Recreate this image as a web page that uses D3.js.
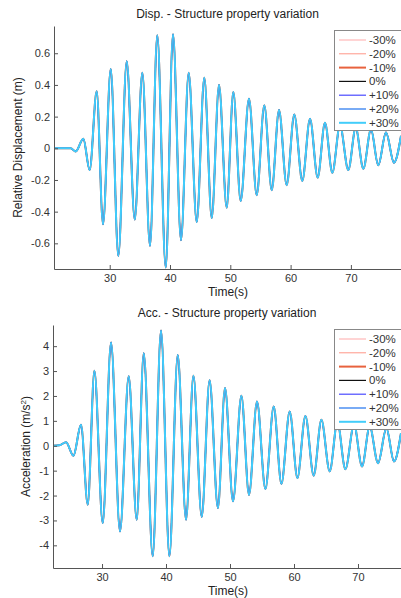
<!DOCTYPE html>
<html>
<head>
<meta charset="utf-8">
<script src="https://cdn.jsdelivr.net/npm/d3@7"></script>
<style>
body{margin:0;background:#fff;}
svg{display:block;font-family:"Liberation Sans",Arial,sans-serif;}
.tick text{fill:#333;font-size:11px;}
.domain,.tick line{stroke:#555;}
.title,.label{fill:#222;font-size:12px;}
.legend text{fill:#333;font-size:11.5px;}
</style>
</head>
<body>
<div id="chart"></div>
<script>
// structure property variation cases
const seriesNames = ['-30%','-20%','-10%','0%','+10%','+20%','+30%'];

const dispTime = [20.76, 23.53, 24.36, 25.62, 26.68, 27.84, 28.89, 30.17, 31.43, 32.82, 34.15, 35.41,
  36.68, 37.89, 39.29, 40.5, 41.82, 43.1, 44.43, 45.69, 46.92, 48.13, 49.4, 50.5, 51.72, 53.1,
  54.38, 55.64, 56.87, 58.08, 59.35, 60.61, 61.94, 63.22, 64.49, 65.7, 66.92, 68.19, 69.57,
  70.8, 72.06, 73.33, 74.54, 75.82, 77.15, 78.31];
const dispValue = [0, 0, -0.02, 0.06, -0.137, 0.36, -0.48, 0.50, -0.68, 0.55, -0.45, 0.477,
  -0.616, 0.713, -0.753, 0.72, -0.58, 0.477, -0.465, 0.445, -0.44, 0.40, -0.375, 0.355, -0.333, 0.313,
  -0.297, 0.271, -0.265, 0.242, -0.233, 0.214, -0.206, 0.187, -0.185, 0.162, -0.154, 0.145, -0.137,
  0.13, -0.129, 0.12, -0.107, 0.10, -0.091, 0.078];

const accTime = [22.3, 23.34, 24.38, 25.53, 26.72, 27.77, 28.81, 30.11, 31.41, 32.81, 34.17, 35.42,
  36.52, 37.92, 39.22, 40.53, 41.83, 43.13, 44.28, 45.58, 46.81, 48.11, 49.22, 50.47, 51.78, 52.97,
  54.22, 55.53, 56.83, 58.03, 59.33, 60.53, 61.78, 63.08, 64.28, 65.58, 66.78, 68.03, 69.38,
  70.63, 71.83, 73.13, 74.44, 75.63, 76.72];
const accValue = [0, 0.02, 0.14, -0.4, 0.84, -2.37, 3.01, -3.1, 4.15, -3.44, 2.79, -2.97,
  3.72, -4.44, 4.63, -4.44, 3.65, -2.97, 2.81, -2.86, 2.63, -2.5, 2.32, -2.23, 2.01, -1.97,
  1.78, -1.74, 1.58, -1.53, 1.38, -1.3, 1.2, -1.2, 1.04, -1.03, 0.95, -0.94, 0.85,
  -0.83, 0.78, -0.7, 0.7, -0.63, 0.51];

const timeTicks = [30, 40, 50, 60, 70];
const dispTicks = [-0.6, -0.4, -0.2, 0, 0.2, 0.4, 0.6];
const accTicks = [-4, -3, -2, -1, 0, 1, 2, 3, 4];

// line look per case
const seriesStyle = {
  '-30%': {color: '#ffd4d4', width: 2},
  '-20%': {color: '#ff9688', width: 1},
  '-10%': {color: '#e8623e', width: 2},
  '0%':   {color: '#111111', width: 1.2},
  '+10%': {color: '#4a4aff', width: 1.2},
  '+20%': {color: '#4c8ff2', width: 1.5},
  '+30%': {color: '#42cdfa', width: 2}
};

const W = 401, H = 598;
const svg = d3.select('#chart').append('svg')
  .attr('width', W).attr('height', H);

let clipId = 0;
function drawPanel(o){
  const g = svg.append('g');
  const x = d3.scaleLinear(o.xDomain, [o.left, o.right]);
  const y = d3.scaleLinear(o.yDomain, [o.bottom, o.top]);
  const id = 'clip' + (clipId++);
  g.append('clipPath').attr('id', id).append('rect')
    .attr('x', o.left).attr('y', o.top)
    .attr('width', o.right - o.left).attr('height', o.bottom - o.top);

  const pts = o.time.map((t, i) => [t, o.value[i]]);
  const line = d3.line().x(d => x(d[0])).y(d => y(d[1])).curve(d3.curveMonotoneX);
  const lines = g.append('g').attr('clip-path', `url(#${id})`);
  seriesNames.forEach(name => {
    lines.append('path').datum(pts)
      .attr('d', line)
      .attr('fill', 'none')
      .attr('stroke', seriesStyle[name].color)
      .attr('stroke-width', seriesStyle[name].width)
      .attr('stroke-linejoin', 'round');
  });

  g.append('g').attr('transform', `translate(0,${o.bottom})`)
    .call(d3.axisBottom(x).tickValues(timeTicks).tickSizeInner(-4).tickSizeOuter(0).tickPadding(5));
  g.append('g').attr('transform', `translate(${o.left},0)`)
    .call(d3.axisLeft(y).tickValues(o.yTicks).tickSizeInner(-4).tickSizeOuter(0).tickPadding(4)
      .tickFormat(d => String(+d.toFixed(1))));

  g.append('text').classed('title', true)
    .attr('x', (o.left + o.right) / 2).attr('y', o.top - 8)
    .attr('text-anchor', 'middle').text(o.title);
  g.append('text').classed('label', true)
    .attr('x', 228).attr('y', o.bottom + 27)
    .attr('text-anchor', 'middle').text('Time(s)');
  const yl = g.append('text').classed('label', true)
    .attr('transform', `translate(${o.yLabelX},${(o.top + o.bottom) / 2})rotate(-90)`)
    .attr('text-anchor', 'middle');
  o.yLabel(yl);

  // legend
  const lg = g.append('g').classed('legend', true);
  lg.append('rect')
    .attr('x', 334.5).attr('y', o.top + 4.5).attr('width', 70).attr('height', 100)
    .attr('fill', '#fff').attr('stroke', '#888');
  seriesNames.forEach((name, i) => {
    const cy = o.top + 14 + i * 13.8;
    lg.append('line').attr('x1', 339).attr('x2', 366).attr('y1', cy).attr('y2', cy)
      .attr('stroke', seriesStyle[name].color).attr('stroke-width', seriesStyle[name].width);
    lg.append('text').attr('x', 369).attr('y', cy + 4).text(name);
  });
}

drawPanel({
  left: 54, right: 401, top: 26, bottom: 269,
  xDomain: [20.76, 78.31], yDomain: [-0.762, 0.772],
  time: dispTime, value: dispValue, yTicks: dispTicks,
  title: 'Disp. - Structure property variation',
  yLabelX: 22,
  yLabel: t => t.text('Relative Displacement (m)')
});

drawPanel({
  left: 53, right: 401, top: 325, bottom: 568,
  xDomain: [22.34, 76.72], yDomain: [-4.91, 4.85],
  time: accTime, value: accValue, yTicks: accTicks,
  title: 'Acc. - Structure property variation',
  yLabelX: 30,
  yLabel: t => {
    t.append('tspan').text('Acceleration (m/s');
    t.append('tspan').attr('baseline-shift', 'super').attr('font-size', '8px').text('2');
    t.append('tspan').text(')');
  }
});
</script>
</body>
</html>
